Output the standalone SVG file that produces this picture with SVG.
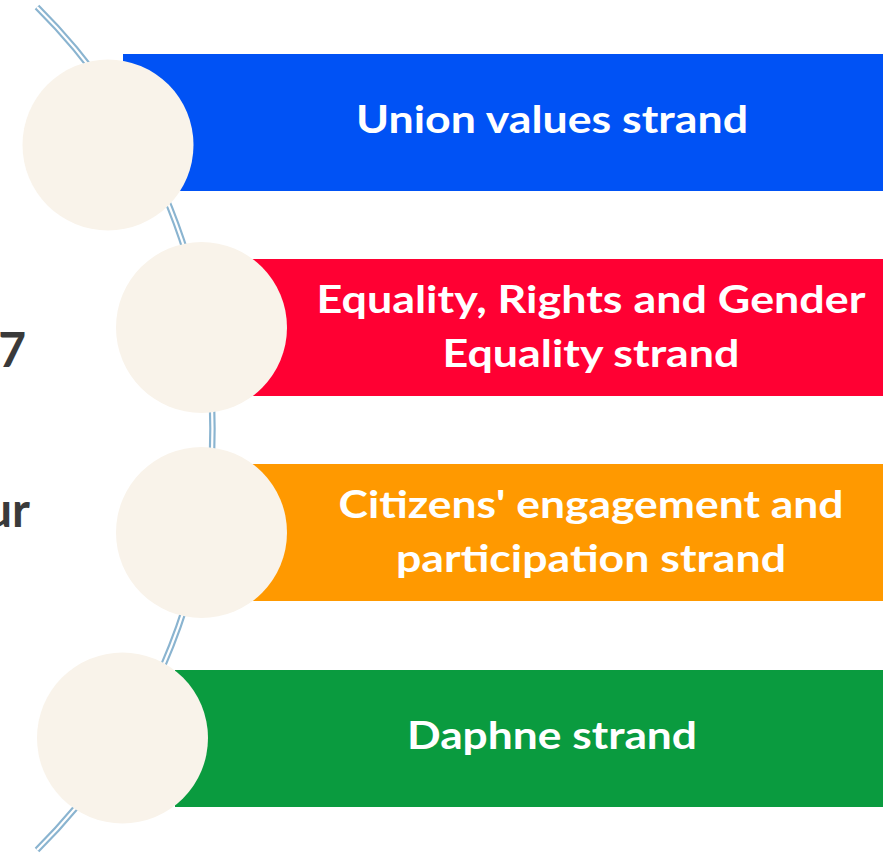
<svg xmlns="http://www.w3.org/2000/svg" width="889" height="853" viewBox="0 0 889 853">
  <style>
    .lbl { font-family: Lato, "Open Sans", "Liberation Sans", sans-serif; font-weight: bold; font-size: 38px; fill: #ffffff; text-anchor: middle; }
    .side { font-family: Lato, "Open Sans", "Liberation Sans", sans-serif; font-weight: bold; font-size: 48px; fill: #3a3a3a; text-anchor: end; }
    .disc { fill: #f9f3ea; }
    .arcOuter { fill: none; stroke: #8ab4d0; stroke-width: 6.5; }
    .arcInner { fill: none; stroke: #ffffff; stroke-width: 2.2; }
  </style>
  <rect width="889" height="853" fill="#ffffff"/>
  <g id="connectors">
    <path class="arcOuter" d="M 37 7 A 594 594 0 0 1 37 850"/>
    <path class="arcInner" d="M 37 7 A 594 594 0 0 1 37 850"/>
  </g>
  <text class="side" x="26" y="367">7</text>
  <text class="side" x="30" y="527">ur</text>
  <g id="node-union">
    <rect x="123" y="54" width="760" height="137" fill="#0052f5"/>
    <circle class="disc" cx="108" cy="145" r="85.5"/>
    <text class="lbl" x="552" y="133" textLength="392" lengthAdjust="spacingAndGlyphs">Union values strand</text>
  </g>
  <g id="node-equality">
    <rect x="252" y="259" width="631" height="137" fill="#ff0033"/>
    <circle class="disc" cx="201.5" cy="327.5" r="85.5"/>
    <text class="lbl" x="591" y="313" textLength="549" lengthAdjust="spacingAndGlyphs">Equality, Rights and Gender</text>
    <text class="lbl" x="591" y="367" textLength="297" lengthAdjust="spacingAndGlyphs">Equality strand</text>
  </g>
  <g id="node-citizens">
    <rect x="252" y="464" width="631" height="137" fill="#ff9900"/>
    <circle class="disc" cx="201.5" cy="532.5" r="85.5"/>
    <text class="lbl" x="591" y="518" textLength="505" lengthAdjust="spacingAndGlyphs">Citizens' engagement and</text>
    <text class="lbl" x="591" y="572" textLength="390" lengthAdjust="spacingAndGlyphs">participation strand</text>
  </g>
  <g id="node-daphne">
    <rect x="175" y="670" width="708" height="137" fill="#0a9b3f"/>
    <circle class="disc" cx="122.5" cy="738" r="85.5"/>
    <text class="lbl" x="552" y="749" textLength="290" lengthAdjust="spacingAndGlyphs">Daphne strand</text>
  </g>
</svg>
